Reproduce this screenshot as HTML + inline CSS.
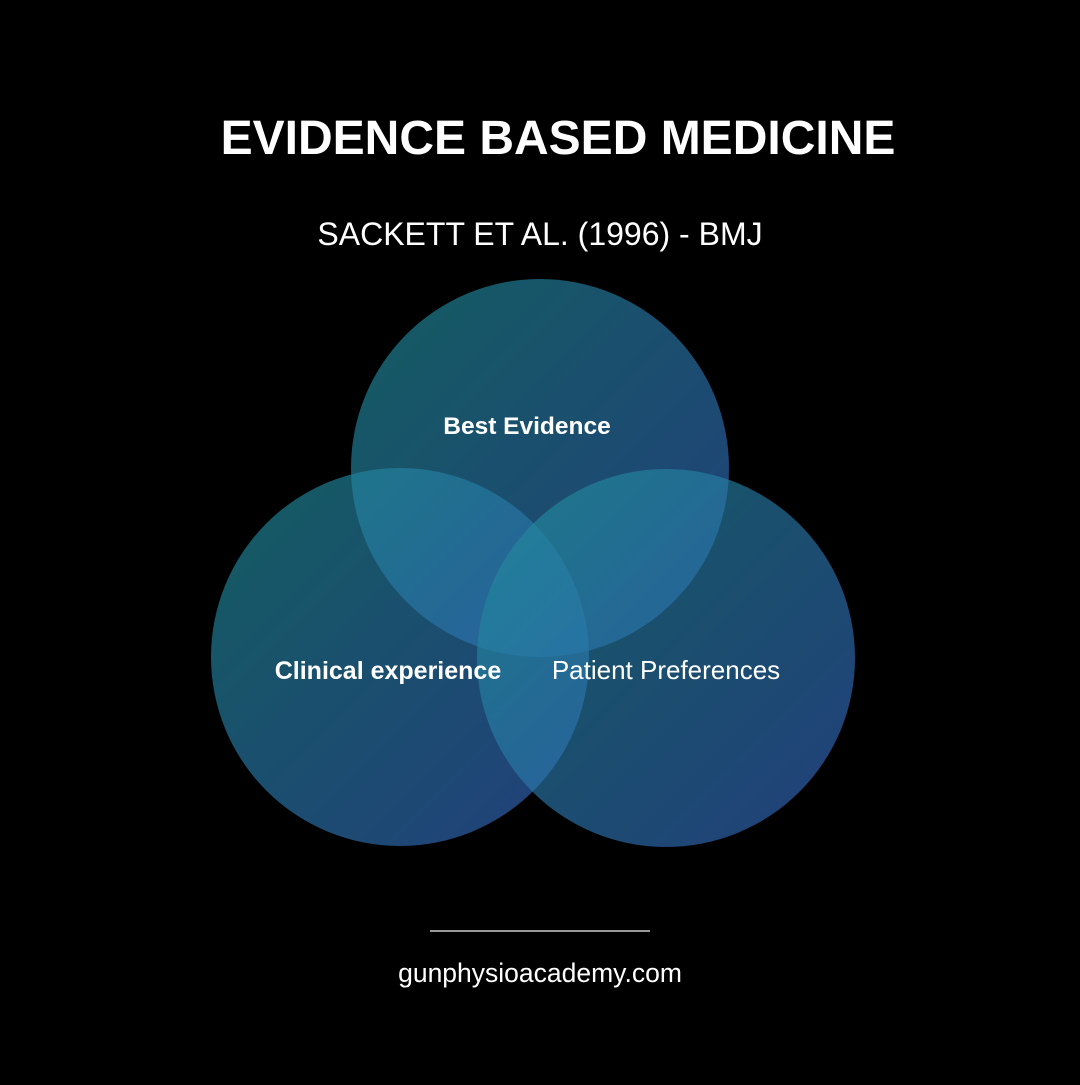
<!DOCTYPE html>
<html><head><style>
html,body{margin:0;padding:0;background:#000;}
body{width:1080px;height:1080px;overflow:hidden;position:relative;font-family:"Liberation Sans",sans-serif;color:#fff;}
</style></head><body>
<svg width="1080" height="1080" viewBox="0 0 1080 1080" xmlns="http://www.w3.org/2000/svg">
<defs>
<linearGradient id="g" x1="0" y1="0" x2="1" y2="1">
<stop offset="0" stop-color="rgb(30,142,150)"/>
<stop offset="1" stop-color="rgb(52,98,190)"/>
</linearGradient>
</defs>
<rect width="1080" height="1080" fill="#000"/>
<text x="558" y="154" font-family="Liberation Sans, sans-serif" font-weight="bold" font-size="48" fill="#fff" text-anchor="middle">EVIDENCE BASED MEDICINE</text>
<text x="540" y="245" font-family="Liberation Sans, sans-serif" font-size="32" fill="#fff" text-anchor="middle">SACKETT ET AL. (1996) - BMJ</text>
<circle cx="540" cy="468" r="189" fill="url(#g)" fill-opacity="0.65"/>
<circle cx="400" cy="657" r="189" fill="url(#g)" fill-opacity="0.65"/>
<circle cx="666" cy="658" r="189" fill="url(#g)" fill-opacity="0.65"/>
<text x="527" y="434" font-family="Liberation Sans, sans-serif" font-weight="bold" font-size="24.5" fill="#fff" text-anchor="middle">Best Evidence</text>
<text x="388" y="679" font-family="Liberation Sans, sans-serif" font-weight="bold" font-size="25" fill="#fff" text-anchor="middle">Clinical experience</text>
<text x="666" y="679" font-family="Liberation Sans, sans-serif" font-size="26" fill="#fff" text-anchor="middle">Patient Preferences</text>
<line x1="430" y1="931" x2="650" y2="931" stroke="#ccc" stroke-width="1.5"/>
<text x="540" y="982" font-family="Liberation Sans, sans-serif" font-size="26.5" fill="#fff" text-anchor="middle">gunphysioacademy.com</text>
</svg>
</body></html>
